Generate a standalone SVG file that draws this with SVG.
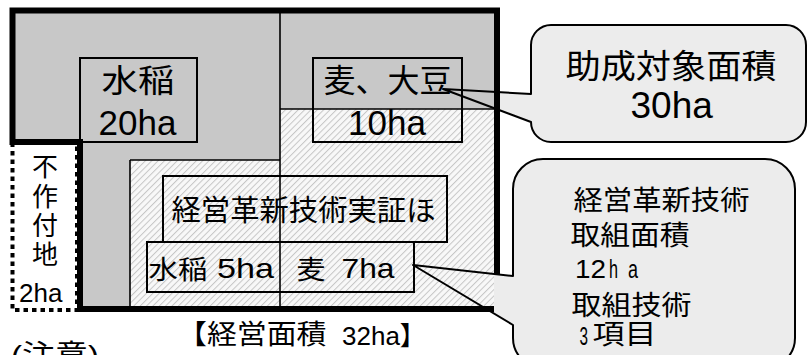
<svg xmlns="http://www.w3.org/2000/svg" width="808" height="355" viewBox="0 0 808 355">
<style>
.t{font-family:"Liberation Sans","Noto Sans CJK JP",sans-serif;fill:#000}
.thin{stroke:#000;stroke-width:1.6;fill:none}
.box{stroke:#000;stroke-width:2;fill:none}
.co{fill:#ececec;stroke:none}
.col{fill:none;stroke:#000;stroke-width:2;stroke-linejoin:round}
</style>
<defs>
<pattern id="hatch" patternUnits="userSpaceOnUse" width="4.5" height="4.5" patternTransform="rotate(45)">
<rect width="4.5" height="4.5" fill="#f8f8f8"/>
<line x1="0.5" y1="0" x2="0.5" y2="4.5" stroke="#c6c6c6" stroke-width="1"/>
</pattern>
<clipPath id="outside"><rect x="494" y="0" width="314" height="355"/></clipPath>
</defs>

<g id="farm-area">
<polygon points="12.5,10.5 497,10.5 497,309 80,309 80,142 12.5,142" fill="#c8c8c8"/>
<polygon points="130,160 280,160 280,109 497,109 497,309 130,309" fill="url(#hatch)"/>
<line class="thin" x1="130" y1="160" x2="130" y2="309"/>
<line class="thin" x1="130" y1="160" x2="280" y2="160"/>
<line class="thin" x1="280" y1="109" x2="497" y2="109"/>
<line class="thin" x1="280" y1="10" x2="280" y2="309"/>
</g>

<g id="node-rice">
<rect class="box" x="80" y="58" width="117" height="84"/>
<text class="t" font-size="32" x="101.5" y="92" textLength="73" lengthAdjust="spacingAndGlyphs">水稲</text>
<text class="t" font-size="35" x="98.5" y="135">20ha</text>
</g>

<g id="node-wheat-soy">
<rect class="box" x="313" y="58" width="149" height="84"/>
<text class="t" font-size="32" x="323.5" y="92" textLength="128" lengthAdjust="spacingAndGlyphs">麦、大豆</text>
<text class="t" font-size="35" x="348" y="135">10ha</text>
</g>

<g id="node-demo">
<rect class="box" x="163" y="176" width="284" height="66"/>
<text class="t" font-size="29" x="171.5" y="220.5" textLength="264" lengthAdjust="spacingAndGlyphs">経営革新技術実証ほ</text>
</g>

<g id="node-demo-crops">
<rect class="box" x="147" y="242" width="267" height="50"/>
<text class="t" font-size="26" x="148.5" y="279" textLength="59" lengthAdjust="spacingAndGlyphs">水稲</text>
<text class="t" font-size="28" x="217" y="278" textLength="57" lengthAdjust="spacingAndGlyphs">5ha</text>
<text class="t" font-size="26" x="296.5" y="279" textLength="29" lengthAdjust="spacingAndGlyphs">麦</text>
<text class="t" font-size="28" x="341.5" y="278" textLength="53" lengthAdjust="spacingAndGlyphs">7ha</text>
</g>

<g id="node-fallow">
<rect x="12.5" y="143" width="64.5" height="167" fill="#fff" stroke="#000" stroke-width="4" stroke-dasharray="4.5 4"/>
<text class="t" font-size="26" text-anchor="middle" x="45" y="176">不</text>
<text class="t" font-size="26" text-anchor="middle" x="45" y="206">作</text>
<text class="t" font-size="26" text-anchor="middle" x="45" y="235">付</text>
<text class="t" font-size="26" text-anchor="middle" x="45" y="264">地</text>
<text class="t" font-size="26" x="19" y="302">2ha</text>
</g>

<g id="callout-subsidy">
<path class="co" clip-path="url(#outside)" d="M551,25 H786 A20,20 0 0 1 806,45 V122 A20,20 0 0 1 786,142 H551 A20,20 0 0 1 531,122 L443,89 L531,94 V45 A20,20 0 0 1 551,25 Z"/>
<path class="col" d="M551,25 H786 A20,20 0 0 1 806,45 V122 A20,20 0 0 1 786,142 H551 A20,20 0 0 1 531,122 L443,89 L531,94 V45 A20,20 0 0 1 551,25 Z"/>
<text class="t" font-size="33" x="565.5" y="77.5" textLength="211" lengthAdjust="spacingAndGlyphs">助成対象面積</text>
<text class="t" font-size="37" x="630.5" y="118">30ha</text>
</g>

<g id="frame">
<polygon points="12.5,10.5 497,10.5 497,309 80,309 80,142 12.5,142" fill="none" stroke="#000" stroke-width="6" stroke-linejoin="miter"/>
</g>

<g id="callout-tech">
<path class="co" clip-path="url(#outside)" d="M543,159 H765 A30,30 0 0 1 795,189 V338 A30,30 0 0 1 765,368 H543 A30,30 0 0 1 513,338 V325 L413,265 L513,276 V189 A30,30 0 0 1 543,159 Z"/>
<path class="col" d="M543,159 H765 A30,30 0 0 1 795,189 V338 A30,30 0 0 1 765,368 H543 A30,30 0 0 1 513,338 V325 L413,265 L513,276 V189 A30,30 0 0 1 543,159 Z"/>
<text class="t" font-size="27" x="573.5" y="210" textLength="176" lengthAdjust="spacingAndGlyphs">経営革新技術</text>
<text class="t" font-size="27" x="570.5" y="245" textLength="119" lengthAdjust="spacingAndGlyphs">取組面積</text>
<text class="t" font-size="25" x="575" y="278" textLength="31" lengthAdjust="spacingAndGlyphs">12</text>
<text class="t" font-size="25" x="609" y="278" textLength="9" lengthAdjust="spacingAndGlyphs">h</text>
<text class="t" font-size="25" x="628" y="278" textLength="10" lengthAdjust="spacingAndGlyphs">a</text>
<text class="t" font-size="27" x="571.5" y="314.5" textLength="120" lengthAdjust="spacingAndGlyphs">取組技術</text>
<text class="t" font-size="26" x="579.5" y="345" textLength="8.5" lengthAdjust="spacingAndGlyphs">3</text>
<text class="t" font-size="27" x="592.5" y="344" textLength="64" lengthAdjust="spacingAndGlyphs">項目</text>
</g>

<g id="labels">
<text class="t" font-size="27" x="177" y="344" textLength="149.5" lengthAdjust="spacingAndGlyphs">【経営面積</text>
<text class="t" font-size="26" x="342" y="344.5">32ha】</text>
<text class="t" font-size="28" x="11" y="365" textLength="88" lengthAdjust="spacingAndGlyphs">(注意)</text>
</g>
</svg>
